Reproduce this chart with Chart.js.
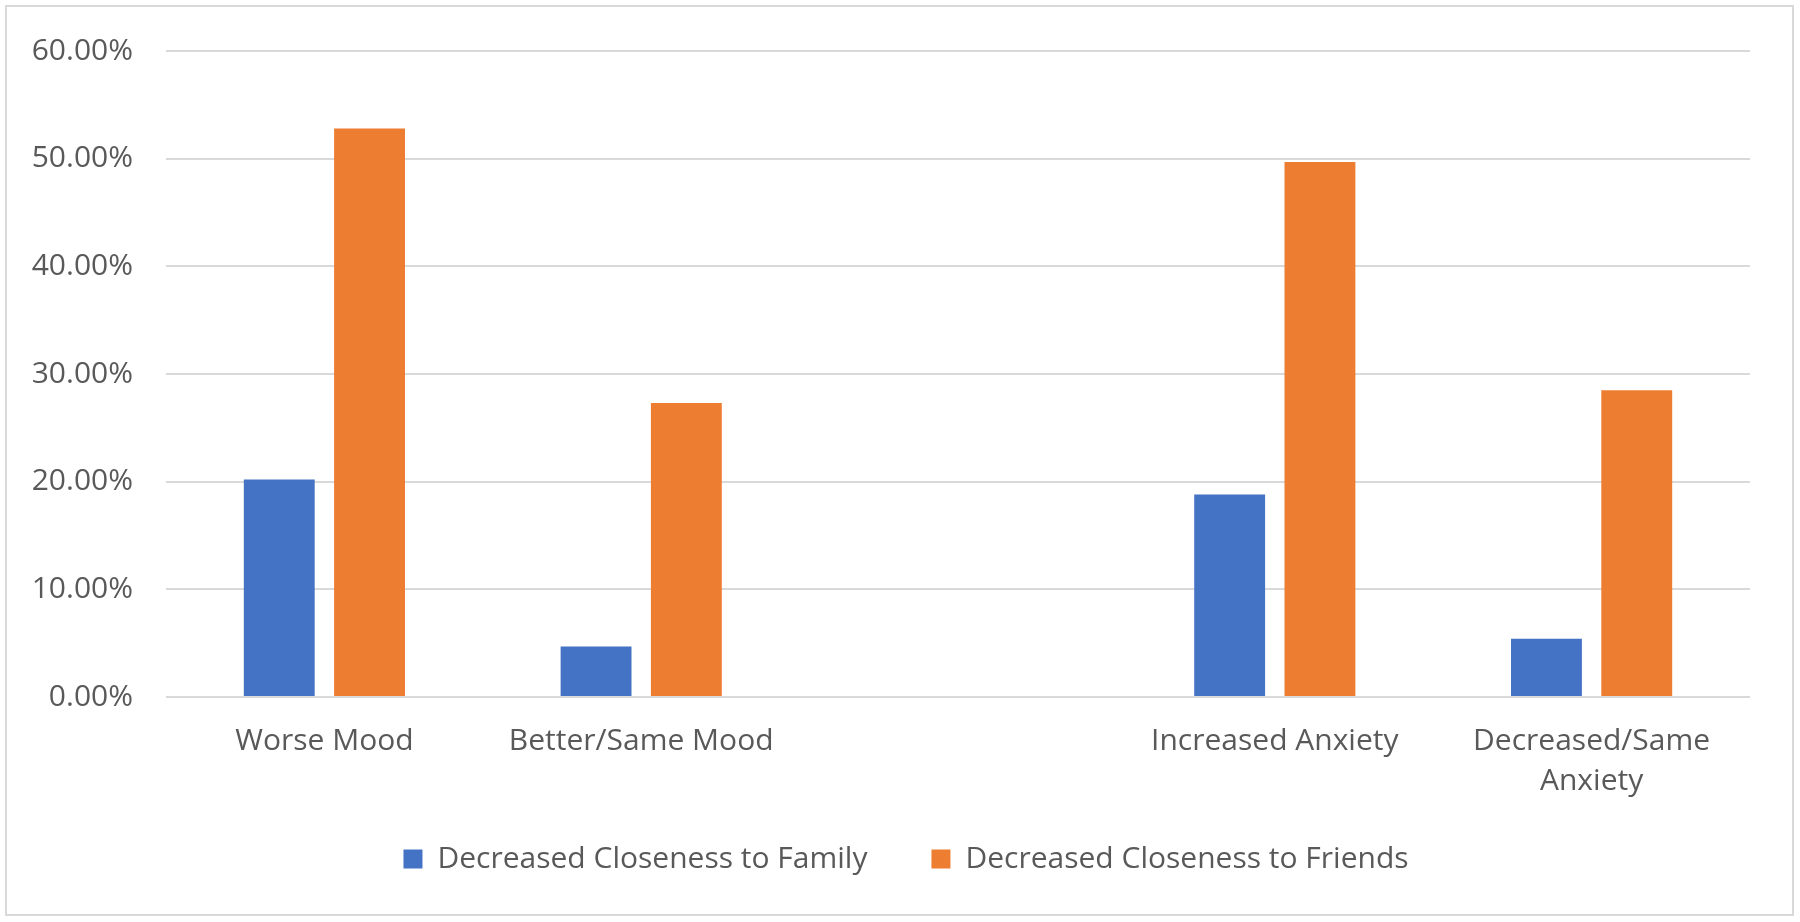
<!DOCTYPE html>
<html lang="en">
<head>
  <meta charset="UTF-8">
  <title>Closeness to family and friends by mood and anxiety</title>
  <style>
    body {
      margin: 0;
      padding: 0;
      background: #ffffff;
      font-family: "Open Sans", sans-serif;
    }
    .frame {
      position: relative;
      width: 1800px;
      height: 922px;
    }
    .frame .border {
      position: absolute;
      left: 5px;
      top: 5px;
      width: 1785px;
      height: 907px;
      border: 2px solid #d9d9d9;
    }
    #closenessChart {
      position: absolute;
      left: 0;
      top: 0;
    }
  </style>
</head>
<body>

<div class="frame">
  <div class="border"></div>
  <canvas id="closenessChart" width="1800" height="922"></canvas>
</div>

<script src="https://cdn.jsdelivr.net/npm/chart.js"></script>
<script>
  // categories (the empty one is the gap between mood and anxiety groups)
  const categories = ['Worse Mood', 'Better/Same Mood', '', 'Increased Anxiety', ['Decreased/Same', 'Anxiety']];
  const seriesNames = ['Decreased Closeness to Family', 'Decreased Closeness to Friends'];
  // values in percent
  const familyValues = [20.2, 4.7, null, 18.8, 5.4];
  const friendsValues = [52.8, 27.3, null, 49.7, 28.5];
  const yTicks = [0, 10, 20, 30, 40, 50, 60];

  const textColor = '#595959';
  const gridColor = '#d9d9d9';

  // move the legend a bit: right by 31px, and up so it sits under the labels
  const legendShift = {
    id: 'legendShift',
    afterLayout(chart) {
      const lg = chart.legend;
      if (!lg) return;
      const h = lg.bottom - lg.top;
      lg.left += 31;
      lg.right += 31;
      lg.top = 780;
      lg.bottom = lg.top + h;
    }
  };

  const ctx = document.getElementById('closenessChart').getContext('2d');
  const closenessChart = new Chart(ctx, {
    type: 'bar',
    data: {
      labels: categories,
      datasets: [{
        label: seriesNames[0],
        data: familyValues,
        backgroundColor: '#4472c4',
        borderWidth: 0
      }, {
        label: seriesNames[1],
        data: friendsValues,
        backgroundColor: '#ed7d31',
        borderWidth: 0
      }]
    },
    options: {
      responsive: false,
      animation: false,
      devicePixelRatio: 1,
      categoryPercentage: 0.57,
      barPercentage: 0.785,
      layout: {
        padding: { left: 0, right: 50, top: 45, bottom: 16 }
      },
      scales: {
        x: {
          grid: { display: false },
          border: { display: false },
          ticks: {
            color: textColor,
            padding: 16,
            maxRotation: 0,
            autoSkip: false,
            font: { family: '"Open Sans", sans-serif', size: 30, lineHeight: 1.34 }
          },
          afterFit: function(scale) { scale.height = 105; }
        },
        y: {
          min: yTicks[0],
          max: yTicks[yTicks.length - 1],
          afterBuildTicks: function(scale) {
            scale.ticks = yTicks.map(v => ({ value: v }));
          },
          grid: {
            color: gridColor,
            lineWidth: 2,
            drawTicks: false
          },
          border: { display: false },
          ticks: {
            color: textColor,
            padding: 33,
            font: { family: '"Open Sans", sans-serif', size: 30 },
            callback: function(value) {
              return value.toFixed(2) + '%';
            }
          },
          afterFit: function(scale) { scale.width = 166; }
        }
      },
      plugins: {
        legend: {
          position: 'bottom',
          labels: {
            color: textColor,
            boxWidth: 19,
            boxHeight: 19,
            padding: 64,
            font: { family: '"Open Sans", sans-serif', size: 30 }
          }
        },
        tooltip: { enabled: true }
      }
    },
    plugins: [legendShift]
  });
</script>

</body>
</html>
